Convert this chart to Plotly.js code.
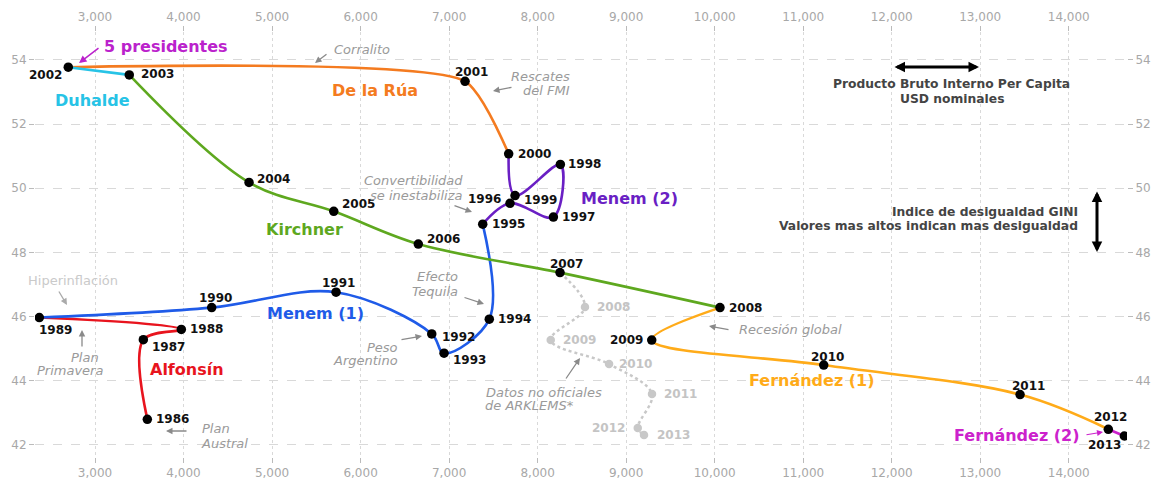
<!DOCTYPE html>
<html><head><meta charset="utf-8">
<script src="https://cdn.plot.ly/plotly-3.0.1.min.js"></script>
<style>html,body{margin:0;padding:0;background:#fff}#chart{width:1162px;height:488px}</style>
</head><body><div id="chart"></div>
<script>
// ---------- DATA ----------
const years = [1986,1987,1988,1989,1990,1991,1992,1993,1994,1995,1996,1997,1998,1999,2000,2001,2002,2003,2004,2005,2006,2007,2008,2009,2010,2011,2012,2013];
const gdpPerCapita = [3591,3546,3975,2371,4318,5723,6804,6943,7454,7380,7688,8178,8257,7745,7673,7180,2698,3387,4740,5697,6652,8253,10060,9289,11232,13450,14447,14628];
const giniIndex = [42.80,45.28,45.60,45.97,46.28,46.76,45.46,44.86,45.92,48.88,49.53,49.10,50.74,49.77,51.07,53.33,53.77,53.53,50.18,49.28,48.26,47.37,46.28,45.27,44.49,43.57,42.49,42.28];

const arklemsYears = [2008,2009,2010,2011,2012,2013];
const arklemsGdp = [8535,8148,8807,9292,9131,9202];
const arklemsGini = [46.30,45.27,44.52,43.59,42.53,42.31];

const presidents = ['Alfonsín','Menem (1)','Menem (2)','De la Rúa','Duhalde','Kirchner','Fernández (1)','Fernández (2)'];
const termFrom = [1986,1989,1995,2000,2002,2003,2008,2012];
const termTo   = [1989,1995,2000,2002,2003,2008,2012,2013];

const xTickVals = [3000,4000,5000,6000,7000,8000,9000,10000,11000,12000,13000,14000];
const yTickVals = [42,44,46,48,50,52,54];

// ---------- STYLE ----------
const presColors = ['#e8141e','#1f5be8','#6a1fc4','#f47b20','#27c3e6','#5ea81f','#ffab19','#cc22cc'];
const presSmoothing = [1,1,1,0.55,1,1,1,1];
const presLabelPos = [[187,369,'center'],[315,313,'center'],[629,198,'center'],[330,90,'left'],[92,100,'center'],[304,229,'center'],[812,380,'center'],[1017,435,'center']];
const yearLabelPos = [
 ['left',7,0],['left',7,7],['left',7,0],['left',-2,12],['center',4,-10],['center',2,-9],['left',8,3],['left',7,7],['left',7,0],['left',7,0],
 ['right',-7,-4],['left',7,0],['left',6,0],['left',7,4],['left',7,0],['center',6,-9],['right',-4,8],['left',10,-1],['left',6,-3],['left',6,-7],
 ['left',7,-5],['center',6,-9],['left',7,0],['right',-7,0],['center',4,-8],['center',8,-9],['center',2,-12],['right',-1,9]];
const arklemsLabelPos = [['left',10,0],['left',10,0],['left',8,0],['left',10,0],['right',-11,0],['left',11,0]];

const X0=35, Y0=32, W=1092, H=425;
const XR=[2322,14658], YR=[41.626,54.866];
function pxX(x){return (x-X0)/W;}
function pxY(y){return (Y0+H-y)/H;}

const traces = [];
// unofficial (ARKLEMS) dotted line, starting at official 2007
const i2007 = years.indexOf(2007);
traces.push({x:[gdpPerCapita[i2007]].concat(arklemsGdp), y:[giniIndex[i2007]].concat(arklemsGini),
  mode:'lines', line:{color:'#c8c8c8', width:2.5, dash:'dot', shape:'spline', smoothing:1}, hoverinfo:'skip'});
traces.push({x:arklemsGdp, y:arklemsGini, mode:'markers', marker:{color:'#c8c8c8', size:8.5}, hoverinfo:'skip'});

presidents.forEach((p,k)=>{
  const xs=[], ys=[];
  years.forEach((yr,i)=>{ if(yr>=termFrom[k] && yr<=termTo[k]){ xs.push(gdpPerCapita[i]); ys.push(giniIndex[i]); }});
  traces.push({x:xs, y:ys, mode:'lines', name:p, line:{color:presColors[k], width:2.6, shape:'spline', smoothing:presSmoothing[k]}, hoverinfo:'skip'});
});
traces.push({x:gdpPerCapita, y:giniIndex, mode:'markers', marker:{color:'#000', size:9.5}, hoverinfo:'skip'});
traces.push({x:[], y:[], xaxis:'x2', yaxis:'y2', mode:'markers', hoverinfo:'skip'});

const ann = [];
years.forEach((yr,i)=>{
  const s = yearLabelPos[i];
  ann.push({xref:'x', yref:'y', x:gdpPerCapita[i], y:giniIndex[i], text:'<b>'+yr+'</b>', showarrow:false,
    xanchor:s[0], yanchor:'middle', xshift:s[1], yshift:-s[2], font:{family:'DejaVu Sans', size:12, color:'#111'}});
});
arklemsYears.forEach((yr,i)=>{
  const s = arklemsLabelPos[i];
  ann.push({xref:'x', yref:'y', x:arklemsGdp[i], y:arklemsGini[i], text:'<b>'+yr+'</b>', showarrow:false,
    xanchor:s[0], yanchor:'middle', xshift:s[1], yshift:-s[2], font:{family:'DejaVu Sans', size:12, color:'#c4c4c4'}});
});
presidents.forEach((p,k)=>{
  const s = presLabelPos[k];
  ann.push({xref:'paper', yref:'paper', x:pxX(s[0]), y:pxY(s[1]), text:'<b>'+p+'</b>', showarrow:false,
    xanchor:s[2], yanchor:'middle', font:{family:'DejaVu Sans', size:16, color:presColors[k]}});
});
function note(t,x,y,anchor,font){
  ann.push({xref:'paper', yref:'paper', x:pxX(x), y:pxY(y), text:t, showarrow:false, xanchor:anchor, yanchor:'middle', font:font});
}
function arrow(x1,y1,x2,y2,color,width,both,size){
  ann.push({xref:'paper', yref:'paper', x:pxX(x2), y:pxY(y2), ax:x1-x2, ay:y1-y2, text:'', showarrow:true,
    arrowhead:2, arrowsize:size||1, arrowwidth:width, arrowcolor:color, standoff:0, startstandoff:0, arrowside: both?'end+start':'end'});
}
const it = {family:'DejaVu Sans', size:13, color:'#9a9a9a'};
note('<b>5 presidentes</b>',102,46,'left',{family:'DejaVu Sans', size:16, color:'#bb22cc'});
note('<i>Corralito</i>',332,49,'left',it);
note('<i>Rescates</i>',572,77,'right',it);
note('<i>del FMI</i>',572,91,'right',it);
note('<i>Convertibilidad</i>',465,180,'right',it);
note('<i>se inestabiliza</i>',465,195,'right',it);
note('<i>Efecto</i>',437,276,'center',it);
note('<i>Tequila</i>',435,291,'center',it);
note('<i>Peso</i>',400,347,'right',it);
note('<i>Argentino</i>',400,360,'right',it);
note('Hiperinflación',73,280,'center',{family:'DejaVu Sans', size:13, color:'#cacaca'});
note('<i>Plan</i>',85,357,'center',it);
note('<i>Primavera</i>',70,370,'center',it);
note('<i>Plan</i>',200,428,'left',it);
note('<i>Austral</i>',199,443,'left',it);
note('<i>Recesión global</i>',737,329,'left',it);
note('<i>Datos no oficiales</i>',484,392,'left',it);
note('<i>de ARKLEMS*</i>',483,405,'left',it);
const ax = {family:'DejaVu Sans', size:12.3, color:'#444'};
note('<b>Producto Bruto Interno Per Capita</b>',951,84,'center',ax);
note('<b>USD nominales</b>',952,99,'center',ax);
note('<b>Indice de desigualdad GINI</b>',1080,212,'right',ax);
note('<b>Valores mas altos indican mas desigualdad</b>',1080,226,'right',ax);

const ga='#8a8a8a';
arrow(328,53,315,63,ga,1.3);
arrow(513,87,493,91,ga,1.3);
arrow(453,205,472,212,ga,1.3);
arrow(463,297,484,304,ga,1.3);
arrow(400,340,422,336,ga,1.3);
arrow(58,290,67,305,'#aaa',1.3);
arrow(82,348,82,330,ga,1.3);
arrow(188,431,166,431,ga,1.3);
arrow(730,330,709,326,ga,1.3);
arrow(565,380,580,358,ga,1.3);
arrow(100,47,79,63,'#bb22cc',1.5);
arrow(1085,435,1103,432,'#cc22cc',1.2);
arrow(893,67,979,67,'#000',3,true,0.7);
arrow(1097,190,1097,252,'#000',3,true,0.7);

const tickFont = {family:'DejaVu Sans', size:12, color:'#a8a8a8'};
const layout = {
  width:1162, height:488, margin:{l:X0, r:1162-X0-W, t:Y0, b:488-Y0-H},
  paper_bgcolor:'#fff', plot_bgcolor:'#fff', showlegend:false,
  xaxis:{range:XR, tickvals:xTickVals, tickformat:',d', ticks:'outside', ticklen:5, tickcolor:'#bbb',
    showgrid:true, gridcolor:'#d9d9d9', griddash:'dot', gridwidth:1, zeroline:false, showline:false, tickfont:tickFont},
  xaxis2:{range:XR, overlaying:'x', side:'top', anchor:'y', tickvals:xTickVals, tickformat:',d', ticks:'outside', ticklen:5, tickcolor:'#bbb',
    showgrid:false, zeroline:false, showline:false, tickfont:tickFont},
  yaxis:{range:YR, tickvals:yTickVals, ticks:'outside', ticklen:5, tickcolor:'#bbb',
    showgrid:true, gridcolor:'#d9d9d9', griddash:'dash', gridwidth:1, zeroline:false, showline:false, tickfont:tickFont},
  yaxis2:{range:YR, overlaying:'y', side:'right', anchor:'x', tickvals:yTickVals, ticks:'outside', ticklen:5, tickcolor:'#bbb',
    showgrid:false, zeroline:false, showline:false, tickfont:tickFont},
  annotations:ann
};
Plotly.newPlot('chart', traces, layout, {displayModeBar:false, staticPlot:true});
</script></body></html>
